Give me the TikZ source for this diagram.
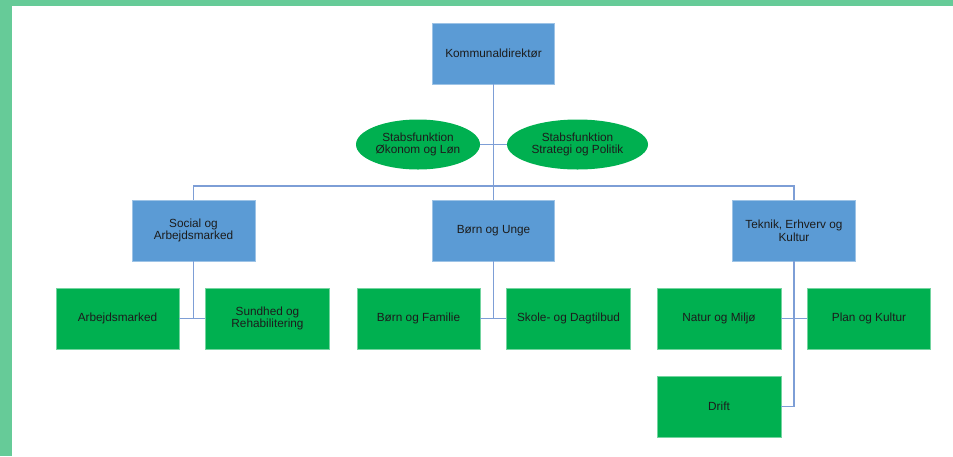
\documentclass[tikz,border=0pt]{standalone}
\usepackage{fontspec}
\setmainfont{Liberation Sans}
\usetikzlibrary{shapes.geometric}

\definecolor{frame}{HTML}{66CB98}
\definecolor{boxblue}{HTML}{5B9BD5}
\definecolor{boxgreen}{HTML}{00B050}
\definecolor{linkblue}{HTML}{7D9ED6}
\definecolor{txt}{HTML}{1C1C1C}

\tikzset{
  unit/.style={draw=boxblue!60!white, line width=0.6pt, fill=boxblue, inner sep=0pt,
    minimum width=123pt, minimum height=61pt, align=center, text=txt,
    font=\fontsize{11.8}{12.8}\selectfont},
  team/.style={unit, draw=boxgreen!55!white, fill=boxgreen},
  staff/.style={ellipse, fill=boxgreen, inner sep=0pt, minimum height=50pt,
    align=center, text=txt, font=\fontsize{11.8}{12.8}\selectfont},
  link/.style={draw=linkblue, line width=1.3pt}
}

\begin{document}
\begin{tikzpicture}[x=1pt, y=-1pt]
  % frame
  \useasboundingbox (0,0) rectangle (953,456);
  \fill[frame] (0,0) rectangle (953,456);
  \fill[white] (12,6) rectangle (953,456);

  % top
  \node[unit, minimum width=122pt] (kd) at (493.5,53.5) {Kommunaldirektør};
  \node[staff, minimum width=124pt] (oek) at (418,144.5) {Stabsfunktion\\Økonom og Løn};
  \node[staff, minimum width=141pt] (strat) at (577.5,144.5) {Stabsfunktion\\Strategi og Politik};

  % areas
  \node[unit] (sa) at (193.5,230.5) {Social og\\Arbejdsmarked};
  \node[unit, minimum width=122pt] (bu) at (493.5,230.5) {Børn og Unge};
  \node[unit] (tek) at (794,230.5) {Teknik, Erhverv og\\Kultur};

  % teams
  \node[team] (arb) at (117.5,318.5) {Arbejdsmarked};
  \node[team, minimum width=124pt] (sund) at (267.5,318.5) {Sundhed og\\Rehabilitering};
  \node[team] (bf) at (418.5,318.5) {Børn og Familie};
  \node[team, minimum width=124pt] (sd) at (568.5,318.5) {Skole- og Dagtilbud};
  \node[team, minimum width=124pt] (nm) at (719,318.5) {Natur og Miljø};
  \node[team] (pk) at (869,318.5) {Plan og Kultur};
  \node[team, minimum width=124pt] (drift) at (719,406.5) {Drift};

  \coordinate (bus) at (493.5,186);

  % connectors
  \draw[link] (kd.south) -- (bu.north);
  \draw[link] (oek.east) -- (strat.west);
  \draw[link] (sa.north) |- (bus) -| (tek.north);
  \draw[link] (sa.south) |- (arb.east);
  \draw[link] (sa.south) |- (sund.west);
  \draw[link] (bu.south) |- (bf.east);
  \draw[link] (bu.south) |- (sd.west);
  \draw[link] (tek.south) |- (nm.east);
  \draw[link] (tek.south) |- (pk.west);
  \draw[link] (tek.south) |- (drift.east);
\end{tikzpicture}
\end{document}
